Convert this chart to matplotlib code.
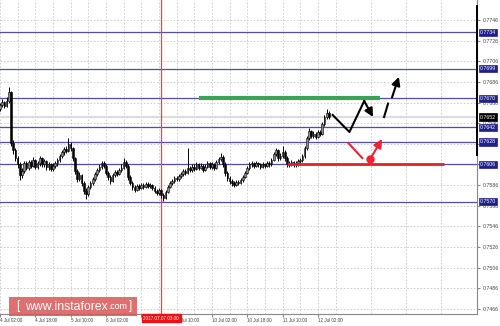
import matplotlib
matplotlib.use('Agg')
import matplotlib.pyplot as plt
from matplotlib.patches import Rectangle
import numpy as np

# hourly AUD/USD-style candles, prices in pips (x 10000), bar 0 = 4 Jul 02:00
first_open = 7660
closes = [7664, 7667, 7663, 7668, 7676, 7627, 7620, 7612, 7606, 7596,
          7600, 7607, 7603, 7608, 7605, 7610, 7604, 7607, 7612, 7606,
          7609, 7604, 7606, 7602, 7605, 7607, 7610, 7614, 7618, 7621,
          7619, 7626, 7622, 7612, 7600, 7592, 7596, 7588, 7580, 7577,
          7584, 7588, 7592, 7597, 7601, 7604, 7607, 7605, 7598, 7594,
          7590, 7596, 7599, 7597, 7601, 7603, 7608, 7605, 7594, 7588,
          7584, 7581, 7585, 7583, 7586, 7584, 7587, 7585, 7586, 7583,
          7580, 7578, 7581, 7576, 7574, 7579, 7584, 7588, 7590, 7593,
          7592, 7595, 7597, 7600, 7598, 7603, 7601, 7604, 7602, 7606,
          7603, 7605, 7601, 7604, 7607, 7604, 7606, 7603, 7608, 7611,
          7613, 7606, 7598, 7593, 7590, 7588, 7586, 7589, 7588, 7591,
          7594, 7598, 7603, 7606, 7607, 7605, 7607, 7606, 7604, 7606,
          7605, 7607, 7606, 7610, 7616, 7620, 7612, 7614, 7618, 7612,
          7606, 7607, 7608, 7606, 7607, 7609, 7610, 7614, 7622, 7632,
          7638, 7634, 7636, 7633, 7637, 7636, 7645, 7652, 7656, 7652]
highs = [7666, 7669, 7668, 7671, 7681, 7677, 7630, 7622, 7614, 7608,
         7603, 7609, 7609, 7610, 7610, 7613, 7611, 7609, 7614, 7613,
         7611, 7610, 7608, 7607, 7607, 7609, 7612, 7616, 7620, 7623,
         7624, 7632, 7628, 7623, 7613, 7602, 7599, 7597, 7590, 7583,
         7586, 7590, 7594, 7599, 7603, 7606, 7609, 7609, 7606, 7600,
         7596, 7598, 7601, 7601, 7603, 7606, 7612, 7610, 7606, 7596,
         7590, 7586, 7587, 7587, 7588, 7588, 7589, 7589, 7588, 7587,
         7585, 7582, 7583, 7582, 7578, 7581, 7586, 7590, 7592, 7595,
         7595, 7597, 7599, 7602, 7602, 7622, 7605, 7606, 7606, 7608,
         7607, 7607, 7606, 7606, 7609, 7608, 7608, 7607, 7610, 7613,
         7617, 7615, 7608, 7600, 7595, 7592, 7590, 7591, 7591, 7593,
         7596, 7600, 7605, 7608, 7609, 7608, 7609, 7608, 7607, 7608,
         7607, 7609, 7609, 7612, 7618, 7622, 7621, 7617, 7624, 7620,
         7614, 7609, 7610, 7609, 7609, 7611, 7612, 7616, 7624, 7634,
         7641, 7639, 7638, 7637, 7639, 7639, 7647, 7654, 7660, 7658]
lows = [7658, 7662, 7661, 7662, 7666, 7624, 7616, 7609, 7603, 7591,
        7593, 7598, 7601, 7601, 7603, 7604, 7602, 7602, 7605, 7604,
        7604, 7601, 7601, 7600, 7600, 7603, 7605, 7608, 7612, 7615,
        7617, 7618, 7619, 7609, 7597, 7589, 7590, 7585, 7577, 7573,
        7575, 7582, 7586, 7590, 7595, 7599, 7602, 7603, 7596, 7591,
        7587, 7589, 7594, 7595, 7596, 7599, 7602, 7603, 7591, 7586,
        7581, 7579, 7580, 7581, 7582, 7582, 7583, 7583, 7583, 7581,
        7578, 7576, 7576, 7574, 7571, 7573, 7578, 7583, 7586, 7588,
        7590, 7590, 7593, 7595, 7596, 7597, 7599, 7599, 7600, 7601,
        7601, 7602, 7599, 7600, 7603, 7602, 7602, 7601, 7602, 7606,
        7609, 7604, 7595, 7590, 7587, 7585, 7584, 7585, 7586, 7587,
        7589, 7593, 7597, 7601, 7604, 7603, 7604, 7604, 7602, 7603,
        7603, 7604, 7604, 7605, 7609, 7614, 7609, 7610, 7612, 7609,
        7604, 7604, 7605, 7604, 7604, 7605, 7607, 7608, 7612, 7620,
        7630, 7632, 7632, 7631, 7632, 7634, 7635, 7643, 7650, 7650]

time_ticks = [0, 16, 32, 48, 64, 80, 96, 112, 128, 144]
# 6 Jul 18:00 sits under the red time marker, so it is left blank
time_labels = ['4 Jul 02:00', '4 Jul 18:00', '5 Jul 10:00', '6 Jul 02:00', '',
               '7 Jul 10:00', '10 Jul 02:00', '10 Jul 18:00', '11 Jul 10:00', '12 Jul 02:00']
price_ticks = [0.7466, 0.7486, 0.7506, 0.7526, 0.7546, 0.7566, 0.7586, 0.7606,
               0.7626, 0.7646, 0.7666, 0.7686, 0.7706, 0.7726, 0.7746]
hidden_ticks = [0.7606, 0.7626]   # covered by the level boxes
levels = [0.7734, 0.7699, 0.7670, 0.7642, 0.7628, 0.7606, 0.7570]
last_price = 0.7652
red_bar = 73          # 2017.07.07 03:00

# forecast drawing (bar index, price)
green_seg = ([90, 172], [0.7670, 0.7670])
red_seg = ([130, 201], [0.7606, 0.7606])
black_zig = ([150.7, 158.3, 165.0], [0.7654, 0.76375, 0.76675])
black_arrow1 = ((165.0, 0.76675), (169.0, 0.7652))
black_dash = ([174.0, 175.8], [0.7652, 0.7665])
black_arrow2 = ((177.6, 0.7671), (180.7, 0.7691))
red_line = ([157.8, 164.1], [0.76268, 0.76123])
red_dot = (167.7, 0.76113)
red_arrow = ((167.7, 0.76113), (173.1, 0.76307))

opens = np.array([first_open] + closes[:-1]) / 10000
closes = np.array(closes) / 10000
highs = np.array(highs) / 10000
lows = np.array(lows) / 10000
idx = np.arange(len(closes))

fig = plt.figure(figsize=(5, 3.26), dpi=100)
ax = fig.add_axes([0, 12/326, 477/500, 314/326])
ax.set_xlim(2.24, 216.1)
ax.set_ylim(0.74611, 0.77654)

# grid
ax.set_xticks(time_ticks)
ax.set_xticks(np.arange(8, 217, 16), minor=True)
ax.set_yticks(price_ticks)
ax.grid(True, which='both', color='#c8c8c8', lw=0.6, ls=(0, (2, 2)))
ax.set_axisbelow(True)

# candles
bull = closes >= opens
ax.vlines(idx, lows, highs, color='black', lw=0.7, zorder=3)
ax.bar(idx[bull], (closes - opens)[bull], bottom=opens[bull], width=0.75,
       color='#8c8c8c', edgecolor='black', lw=0.4, zorder=4)
ax.bar(idx[~bull], (opens - closes)[~bull], bottom=closes[~bull], width=0.75,
       color='black', edgecolor='black', lw=0.4, zorder=4)

# levels
for lv in levels:
    ax.axhline(lv, color='#4f4fa6', lw=0.9, zorder=2)
ax.axhline(last_price, color='#dddddd', lw=1.6, zorder=1)
ax.axvline(red_bar, color='#ff3a3a', lw=0.9, zorder=2)

# forecast
ax.plot(*green_seg, color='#3aa35a', lw=3, solid_capstyle='butt', zorder=5)
ax.plot(*red_seg, color='#dd2233', lw=2, solid_capstyle='butt', zorder=5)
ax.plot(*black_zig, color='black', lw=1.5, zorder=6)
ax.plot(*black_dash, color='black', lw=1.5, zorder=6)
aprops = dict(arrowstyle='-|>,head_length=0.5,head_width=0.25', lw=1.5, shrinkA=0, shrinkB=0)
ax.annotate('', xy=black_arrow1[1], xytext=black_arrow1[0], arrowprops=dict(color='black', **aprops), zorder=6)
ax.annotate('', xy=black_arrow2[1], xytext=black_arrow2[0], arrowprops=dict(color='black', **aprops), zorder=6)
ax.plot(*red_line, color='#ee2233', lw=1.5, zorder=6)
ax.plot(*red_dot, 'o', color='#ee2233', ms=5, zorder=7)
ax.annotate('', xy=red_arrow[1], xytext=red_arrow[0], arrowprops=dict(color='#ee2233', **aprops), zorder=6)

# axes styling
for s in ['left', 'top']:
    ax.spines[s].set_visible(False)
ax.spines['right'].set_color('#888888')
ax.spines['bottom'].set_color('#888888')
ax.spines['right'].set_linewidth(0.8)
ax.spines['bottom'].set_linewidth(0.8)
ax.plot([1, 1], [0.7615, 0.7760], transform=ax.get_yaxis_transform(), color='black',
        lw=1.4, clip_on=False, zorder=8)

ax.yaxis.tick_right()
ax.set_yticklabels(['' if p in hidden_ticks else f'{p:.4f}' for p in price_ticks])
ax.tick_params(axis='y', which='major', length=2, pad=2, labelsize=3.8, labelcolor='#444444',
               color='#888888')
ax.set_xticklabels(time_labels)
ax.tick_params(axis='x', which='major', length=2, pad=1, labelsize=3.3, labelcolor='#444444',
               color='#888888')
ax.tick_params(axis='x', which='minor', length=0)
for t in ax.get_xticklabels():
    t.set_ha('left')
    t.set_fontfamily('Liberation Sans')
for t in ax.get_yticklabels():
    t.set_fontfamily('Liberation Sans')

# price boxes on the right scale
yt = ax.get_yaxis_transform()
for lv in levels:
    ax.text(1.006, lv, f'{lv:.4f}', transform=yt, fontsize=3.8, color='white', va='center',
            ha='left', family='Liberation Sans', clip_on=False, zorder=9,
            bbox=dict(boxstyle='square,pad=0.25', fc='#20208a', ec='#20208a', lw=0.5))
ax.text(1.006, last_price, f'{last_price:.4f}', transform=yt, fontsize=3.8, color='white',
        va='center', ha='left', family='Liberation Sans', clip_on=False, zorder=9,
        bbox=dict(boxstyle='square,pad=0.25', fc='black', ec='black', lw=0.5))

# red time label
ax.text(red_bar, -0.006, '2017.07.07 03:00', transform=ax.get_xaxis_transform(), fontsize=3.3,
        color='white', ha='center', va='top', family='Liberation Sans', clip_on=False, zorder=9,
        bbox=dict(boxstyle='square,pad=0.35', fc='#ee1111', ec='#ee1111'))

# watermark: pieces laid out one after another using measured widths
fig.patches.append(Rectangle((9/500, 10/326), 128/500, 19/326, transform=fig.transFigure,
                             fc='#d85858', ec='none', alpha=0.85, zorder=10))
renderer = fig.canvas.get_renderer()
wm_y = 19.5/326
xpos = 16/500
for txt, size, gap in [('[', 8.5, 6), ('www.instaforex', 8.8, 0), ('.com', 6.3, 2), (']', 8.5, 0)]:
    t = fig.text(xpos, wm_y, txt, color='white', fontsize=size, va='center',
                 family='Liberation Sans', zorder=11)
    w = t.get_window_extent(renderer).width
    xpos += (w + gap) / 500

fig.savefig('out.png', dpi=100)
